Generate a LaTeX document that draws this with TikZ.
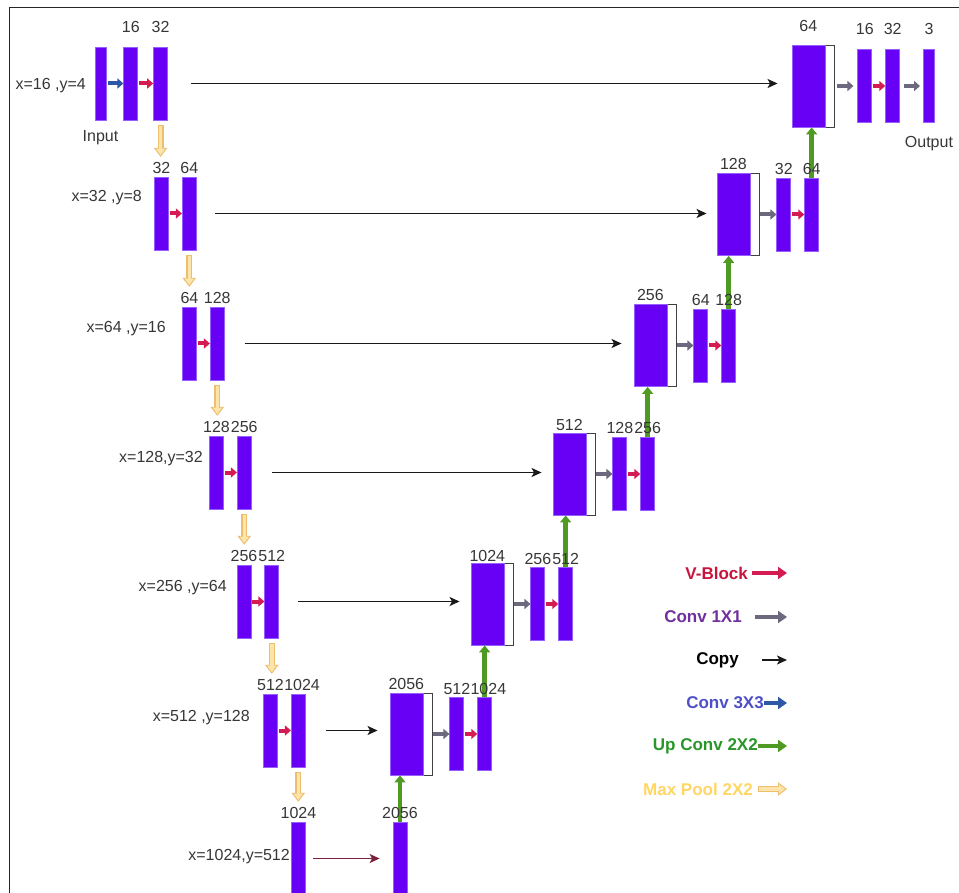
\documentclass[tikz,border=0pt]{standalone}
\usepackage{fontspec}
\setmainfont{Liberation Sans}
\usetikzlibrary{arrows.meta,positioning,calc}
\definecolor{unetviolet}{RGB}{104,0,245}
\definecolor{unetedge}{RGB}{150,95,255}
\definecolor{labelgray}{RGB}{55,55,55}
\definecolor{vblockred}{RGB}{212,28,82}
\definecolor{vblocktext}{RGB}{200,20,60}
\definecolor{convgray}{RGB}{108,104,126}
\definecolor{convtext}{RGB}{112,48,160}
\definecolor{convblue}{RGB}{44,88,166}
\definecolor{convbluetext}{RGB}{78,80,200}
\definecolor{upgreen}{RGB}{78,154,34}
\definecolor{upgreentext}{RGB}{40,150,40}
\definecolor{poolline}{RGB}{236,190,110}
\definecolor{poolfill}{RGB}{252,228,170}
\definecolor{pooltext}{RGB}{255,214,100}
\definecolor{skipred}{RGB}{122,32,56}
\tikzset{
  unet frame/.style={black!85,line width=1.6pt},
  unet bar/.style={rectangle,fill=unetviolet,draw=unetedge,line width=0.8pt,minimum width=14pt,minimum height=73pt,inner sep=0pt},
  unet thin/.style={unet bar,minimum width=11pt},
  unet block/.style={rectangle,draw=black!75,fill=white,line width=0.9pt,minimum width=42pt,minimum height=82pt,inner sep=0pt},
  unet fill/.style={rectangle,fill=unetviolet,draw=unetedge,line width=0.6pt,minimum width=33pt,minimum height=82pt,inner sep=0pt,anchor=west},
  unet num/.style={font=\fontsize{16}{16}\selectfont,text=labelgray,inner sep=0pt},
  unet dim/.style={unet num,anchor=east},
  unet key/.style={font=\fontsize{17}{17}\selectfont\bfseries,anchor=east,inner sep=0pt},
  unet vblock/.style={draw=vblockred,line width=4pt,-{Triangle[length=6pt,width=10pt]},shorten <=1pt},
  unet conv/.style={draw=convgray,line width=4pt,-{Triangle[length=6pt,width=10pt]},shorten <=1pt},
  unet conv3/.style={draw=convblue,line width=4pt,-{Triangle[length=6pt,width=10pt]},shorten <=2pt},
  unet up/.style={draw=upgreen,line width=4.5pt,-{Triangle[length=7pt,width=11pt]}},
  unet pool/.style={draw=poolline,line width=6pt,-{Triangle[length=9pt,width=13pt]},shorten <=5pt,shorten >=5pt,
    postaction={draw=poolfill,line width=3.4pt,-{Triangle[length=6.4pt,width=9pt]},shorten <=6pt,shorten >=6.8pt}},
  unet copy/.style={draw=black!90,line width=1.5pt,-{Stealth[length=10pt,width=9pt,inset=2.5pt]}},
  unet key arrow/.style={line width=4.5pt,-{Triangle[length=9pt,width=12pt]}}
}

\begin{document}
\begin{tikzpicture}[x=1pt,y=-1pt]
\clip (0,0) rectangle (959,893);
\fill[white] (0,0) rectangle (959,893);
\draw[unet frame] (9.5,893) -- (9.5,7.5) -- (959,7.5);

% contracting side
\node[unet thin] (e1a) at (100.5,83.5) {};
\node[unet bar,right=17pt of e1a] (e1b) {};
\node[unet bar,right=15pt of e1b] (e1c) {};
\node[unet bar] (e2a) at (161.5,213.5) {};
\node[unet bar,right=13pt of e2a] (e2b) {};
\node[unet bar] (e3a) at (189.5,343.5) {};
\node[unet bar,right=13pt of e3a] (e3b) {};
\node[unet bar] (e4a) at (216.5,472.5) {};
\node[unet bar,right=13pt of e4a] (e4b) {};
\node[unet bar] (e5a) at (244,601.5) {};
\node[unet bar,right=13pt of e5a] (e5b) {};
\node[unet bar] (e6a) at (270.5,730.5) {};
\node[unet bar,right=13pt of e6a] (e6b) {};
\node[unet bar] (e7) at (298.5,858.5) {};

% expanding side
\node[unet block] (d1) at (813,86) {};
\node[unet fill] (d1f) at (d1.west) {};
\node[unet bar,right=23pt of d1] (d1a) {};
\node[unet bar,right=13pt of d1a] (d1b) {};
\node[unet thin,right=23pt of d1b] (out) {};
\node[unet block] (d2) at (738,214.5) {};
\node[unet fill] (d2f) at (d2.west) {};
\node[unet bar,right=17pt of d2] (d2a) {};
\node[unet bar,right=13pt of d2a] (d2b) {};
\node[unet block] (d3) at (655,345.5) {};
\node[unet fill] (d3f) at (d3.west) {};
\node[unet bar,right=17pt of d3] (d3a) {};
\node[unet bar,right=13pt of d3a] (d3b) {};
\node[unet block] (d4) at (574,474) {};
\node[unet fill] (d4f) at (d4.west) {};
\node[unet bar,right=17pt of d4] (d4a) {};
\node[unet bar,right=13pt of d4a] (d4b) {};
\node[unet block] (d5) at (492,604) {};
\node[unet fill] (d5f) at (d5.west) {};
\node[unet bar,right=17pt of d5] (d5a) {};
\node[unet bar,right=13pt of d5a] (d5b) {};
\node[unet block] (d6) at (411,734) {};
\node[unet fill] (d6f) at (d6.west) {};
\node[unet bar,right=17pt of d6] (d6a) {};
\node[unet bar,right=13pt of d6a] (d6b) {};
\node[unet bar] (d7) at (400,858.5) {};

% up convolution
\draw[unet up] (d7.north) -- (d7.north |- d6.south);
\draw[unet up] (d6b.north) -- (d6b.north |- d5.south);
\draw[unet up] (d5b.north) -- (d5b.north |- d4.south);
\draw[unet up] (d4b.north) -- (d4b.north |- d3.south);
\draw[unet up] (d3b.north) -- (d3b.north |- d2.south);
\draw[unet up] (d2b.north) -- (d2b.north |- d1.south);

% channel counts
\node[unet num,above=14pt of e1b] (n1b) {16};
\node[unet num,above=14pt of e1c] (n1c) {32};
\node[unet num,above=3pt of e2a] (n2a) {32};
\node[unet num,above=3pt of e2b] (n2b) {64};
\node[unet num,above=3pt of e3a] (n3a) {64};
\node[unet num,above=3pt of e3b] (n3b) {128};
\node[unet num,above=3pt of e4a] (n4a) {128};
\node[unet num,above=3pt of e4b] (n4b) {256};
\node[unet num,above=3pt of e5a] (n5a) {256};
\node[unet num,above=3pt of e5b] (n5b) {512};
\node[unet num,above=3pt of e6a] (n6a) {512};
\node[unet num,right=0pt of n6a] (n6b) {1024};
\node[unet num,above=3pt of e7] (n7) {1024};
\node[unet num,above=13pt of d1f] (m1) {64};
\node[unet num,above=14pt of d1a] (m1a) {16};
\node[unet num,above=14pt of d1b] (m1b) {32};
\node[unet num,above=14pt of out] (mout) {3};
\node[unet num,above=3pt of d2f] (m2) {128};
\node[unet num,above=3pt of d2a] (m2a) {32};
\node[unet num,above=3pt of d2b] (m2b) {64};
\node[unet num,above=3pt of d3f] (m3) {256};
\node[unet num,above=3pt of d3a] (m3a) {64};
\node[unet num,above=3pt of d3b] (m3b) {128};
\node[unet num,above=2pt of d4f] (m4) {512};
\node[unet num,above=3pt of d4a] (m4a) {128};
\node[unet num,above=3pt of d4b] (m4b) {256};
\node[unet num,above=1pt of d5f] (m5) {1024};
\node[unet num,above=2pt of d5a] (m5a) {256};
\node[unet num,above=2pt of d5b] (m5b) {512};
\node[unet num,above=3pt of d6f] (m6) {2056};
\node[unet num,above=2pt of d6a] (m6a) {512};
\node[unet num,right=0pt of m6a] (m6b) {1024};
\node[unet num,above=3pt of d7] (m7) {2056};
\node[unet num,below=10pt of e1a] (inlbl) {Input};
\node[unet num,below=13pt of out] (outlbl) {Output};

% input sizes
\node[unet dim] (dim1) at (86,86) {x=16 ,y=4};
\node[unet dim] (dim2) at (142,198) {x=32 ,y=8};
\node[unet dim] (dim3) at (166,329) {x=64 ,y=16};
\node[unet dim] (dim4) at (203,459) {x=128,y=32};
\node[unet dim] (dim5) at (227,588) {x=256 ,y=64};
\node[unet dim] (dim6) at (250,718) {x=512 ,y=128};
\node[unet dim] (dim7) at (290,857) {x=1024,y=512};

% blocks inside each level
\draw[unet conv3] (e1a) -- (e1b);
\draw[unet vblock] (e1b) -- (e1c);
\draw[unet vblock] (e2a) -- (e2b);
\draw[unet vblock] (e3a) -- (e3b);
\draw[unet vblock] (e4a) -- (e4b);
\draw[unet vblock] (e5a) -- (e5b);
\draw[unet vblock] (e6a) -- (e6b);
\draw[unet conv,shorten <=3pt,shorten >=4pt] (d1a.west -| d1.east) -- (d1a.west);
\draw[unet vblock] (d1a) -- (d1b);
\draw[unet conv,shorten <=4pt,shorten >=3pt] (d1b) -- (out);
\draw[unet conv] (d2a.west -| d2.east) -- (d2a.west);
\draw[unet vblock] (d2a) -- (d2b);
\draw[unet conv] (d3a.west -| d3.east) -- (d3a.west);
\draw[unet vblock] (d3a) -- (d3b);
\draw[unet conv] (d4a.west -| d4.east) -- (d4a.west);
\draw[unet vblock] (d4a) -- (d4b);
\draw[unet conv] (d5a.west -| d5.east) -- (d5a.west);
\draw[unet vblock] (d5a) -- (d5b);
\draw[unet conv] (d6a.west -| d6.east) -- (d6a.west);
\draw[unet vblock] (d6a) -- (d6b);

% max pooling
\draw[unet pool] (e1c.south) -- (e1c.south |- n2a.north);
\draw[unet pool] (e2b.south) -- (e2b.south |- n3a.north);
\draw[unet pool] (e3b.south) -- (e3b.south |- n4a.north);
\draw[unet pool] (e4b.south) -- (e4b.south |- n5a.north);
\draw[unet pool] (e5b.south) -- (e5b.south |- n6a.north);
\draw[unet pool] (e6b.south) -- (e6b.south |- n7.north);

% copy
\draw[unet copy,shorten <=23pt,shorten >=14pt] (e1c.east) -- (e1c.east -| d1.west);
\draw[unet copy,shorten <=18pt,shorten >=10pt] (e2b.east) -- (e2b.east -| d2.west);
\draw[unet copy,shorten <=20pt,shorten >=12pt] (e3b.east) -- (e3b.east -| d3.west);
\draw[unet copy,shorten <=20pt,shorten >=11pt] (e4b.east) -- (e4b.east -| d4.west);
\draw[unet copy,shorten <=19pt,shorten >=11pt] (e5b.east) -- (e5b.east -| d5.west);
\draw[unet copy,shorten <=20pt,shorten >=12pt] (e6b.east) -- (e6b.east -| d6.west);
\draw[unet copy,draw=skipred,line width=1.2pt,shorten <=7pt,shorten >=13pt] (e7) -- (d7);

% legend
\node[unet key,text=vblocktext] (k1) at (748,573) {V-Block};
\node[unet key,text=convtext] (k2) at (742,617) {Conv 1X1};
\node[unet key,text=black] (k3) at (739,660) {Copy};
\node[unet key,text=convbluetext] (k4) at (764,703) {Conv 3X3};
\node[unet key,text=upgreentext] (k5) at (758,746) {Up Conv 2X2};
\node[unet key,text=pooltext] (k6) at (753,789) {Max Pool 2X2};
\coordinate (k1e) at (787,573);
\coordinate (k2e) at (787,617);
\coordinate (k3e) at (787,660);
\coordinate (k4e) at (787,703);
\coordinate (k5e) at (787,746);
\coordinate (k6e) at (792,789);
\draw[unet vblock,unet key arrow,shorten <=4pt] (k1) -- (k1e);
\draw[unet conv,unet key arrow,shorten <=13pt] (k2) -- (k2e);
\draw[unet copy,shorten <=23pt] (k3) -- (k3e);
\draw[unet conv3,unet key arrow,shorten <=0pt] (k4) -- (k4e);
\draw[unet up,unet key arrow] (k5) -- (k5e);
\draw[unet pool] (k6) -- (k6e);
\end{tikzpicture}
\end{document}
